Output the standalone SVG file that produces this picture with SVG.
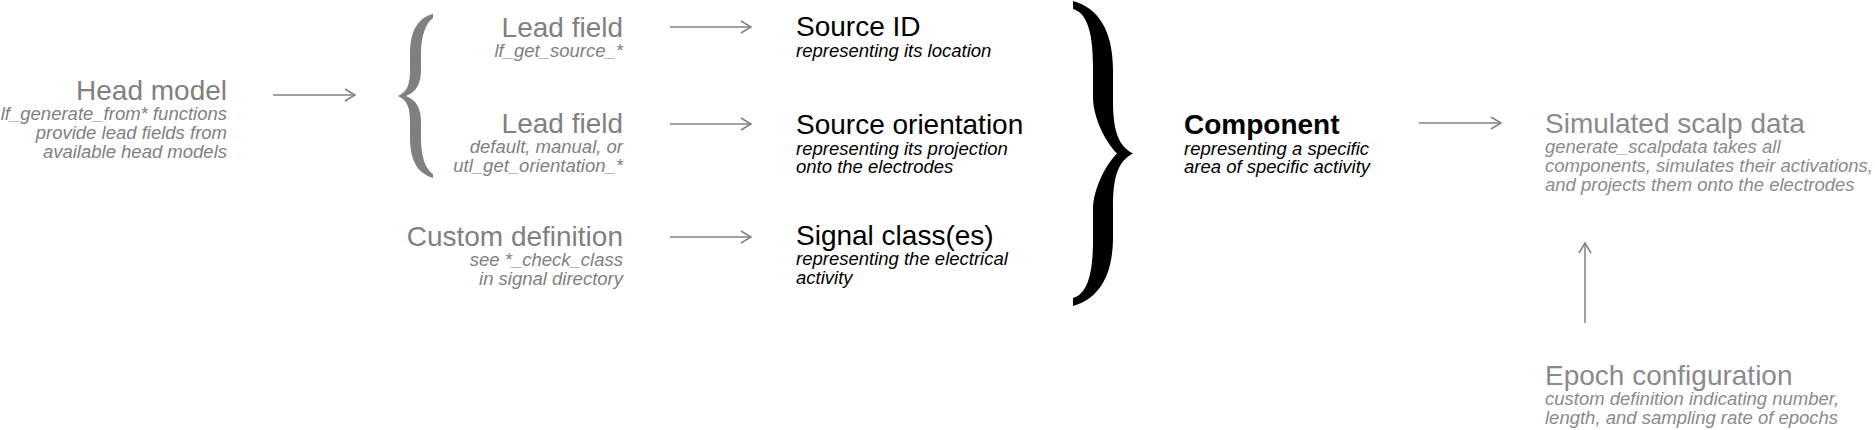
<svg xmlns="http://www.w3.org/2000/svg" width="1875" height="430" viewBox="0 0 1875 430">
<defs>
<marker id="ah" markerUnits="userSpaceOnUse" markerWidth="14" markerHeight="14" refX="12" refY="7" orient="auto" viewBox="0 0 14 14">
<path d="M2,1 L12,7 L2,13" fill="none" stroke="#808080" stroke-width="1.5"/>
</marker>
</defs>
<style>
text{font-family:"Liberation Sans",Arial,sans-serif}
.t{font-size:28px}
.s{font-size:18.5px;font-style:italic}
.g{fill:#808080}
.l{fill:#8a8a8a}
.k{fill:#000}
.b{font-weight:bold}
.r{text-anchor:end}
.c{stroke:#808080;stroke-width:1.5;fill:none;marker-end:url(#ah)}
</style>
<rect width="1875" height="430" fill="#fff"/>
<g id="head-model">
<text class="t g r" x="227" y="100">Head model</text>
<text class="s g r" x="227" y="120">lf_generate_from* functions</text>
<text class="s g r" x="227" y="139">provide lead fields from</text>
<text class="s g r" x="227" y="158">available head models</text>
</g>
<g id="left-brace">
<path fill="#808080" d="M433,14 C417,18 410,32 410,55 L410,70 C410,85 407,92 398,96 C407,100 410,107 410,122 L410,137 C410,160 417,173 433,178 L433,174 C426,169 421,158 421,137 L421,122 C421,108 416,100 406,96 C416,92 421,84 421,70 L421,55 C421,35 426,23 433,18 Z"/>
</g>
<g id="lead-field-1">
<text class="t g r" x="623" y="37">Lead field</text>
<text class="s g r" x="623" y="57">lf_get_source_*</text>
</g>
<g id="lead-field-2">
<text class="t g r" x="623" y="133">Lead field</text>
<text class="s g r" x="623" y="153">default, manual, or</text>
<text class="s g r" x="623" y="172">utl_get_orientation_*</text>
</g>
<g id="custom-definition">
<text class="t g r" x="623" y="246">Custom definition</text>
<text class="s g r" x="623" y="266">see *_check_class</text>
<text class="s g r" x="623" y="285">in signal directory</text>
</g>
<g id="source-id">
<text class="t k" x="796" y="36">Source ID</text>
<text class="s k" x="796" y="57">representing its location</text>
</g>
<g id="source-orientation">
<text class="t k" x="796" y="134">Source orientation</text>
<text class="s k" x="796" y="155">representing its projection</text>
<text class="s k" x="796" y="173">onto the electrodes</text>
</g>
<g id="signal-classes">
<text class="t k" x="796" y="245">Signal class(es)</text>
<text class="s k" x="796" y="265">representing the electrical</text>
<text class="s k" x="796" y="284">activity</text>
</g>
<g id="right-brace">
<path fill="#000" d="M1073,1 C1098,8 1113,30 1113,70 L1113,100 C1113,130 1118,146 1133,153.5 C1118,161 1113,177 1113,207 L1113,237 C1113,277 1098,299 1073,306 L1073,298 C1087,294 1093,275 1093,240 L1093,210 C1093,187 1108,162 1117,153.5 C1108,145 1093,120 1093,97 L1093,67 C1093,32 1087,13 1073,9 Z"/>
</g>
<g id="component">
<text class="t k b" x="1184" y="134">Component</text>
<text class="s k" x="1184" y="155">representing a specific</text>
<text class="s k" x="1184" y="173">area of specific activity</text>
</g>
<g id="simulated-scalp-data">
<text class="t l" x="1545" y="133">Simulated scalp data</text>
<text class="s l" x="1545" y="153">generate_scalpdata takes all</text>
<text class="s l" x="1545" y="172">components, simulates their activations,</text>
<text class="s l" x="1545" y="191">and projects them onto the electrodes</text>
</g>
<g id="epoch-configuration">
<text class="t l" x="1545" y="385">Epoch configuration</text>
<text class="s l" x="1545" y="405">custom definition indicating number,</text>
<text class="s l" x="1545" y="424">length, and sampling rate of epochs</text>
</g>
<g id="connectors">
<line class="c" x1="273" y1="95" x2="355" y2="95"/>
<line class="c" x1="670" y1="27" x2="751" y2="27"/>
<line class="c" x1="670" y1="124" x2="751" y2="124"/>
<line class="c" x1="670" y1="237" x2="751" y2="237"/>
<line class="c" x1="1419" y1="123" x2="1501" y2="123"/>
<line class="c" x1="1585" y1="323" x2="1585" y2="243"/>
</g>
</svg>
